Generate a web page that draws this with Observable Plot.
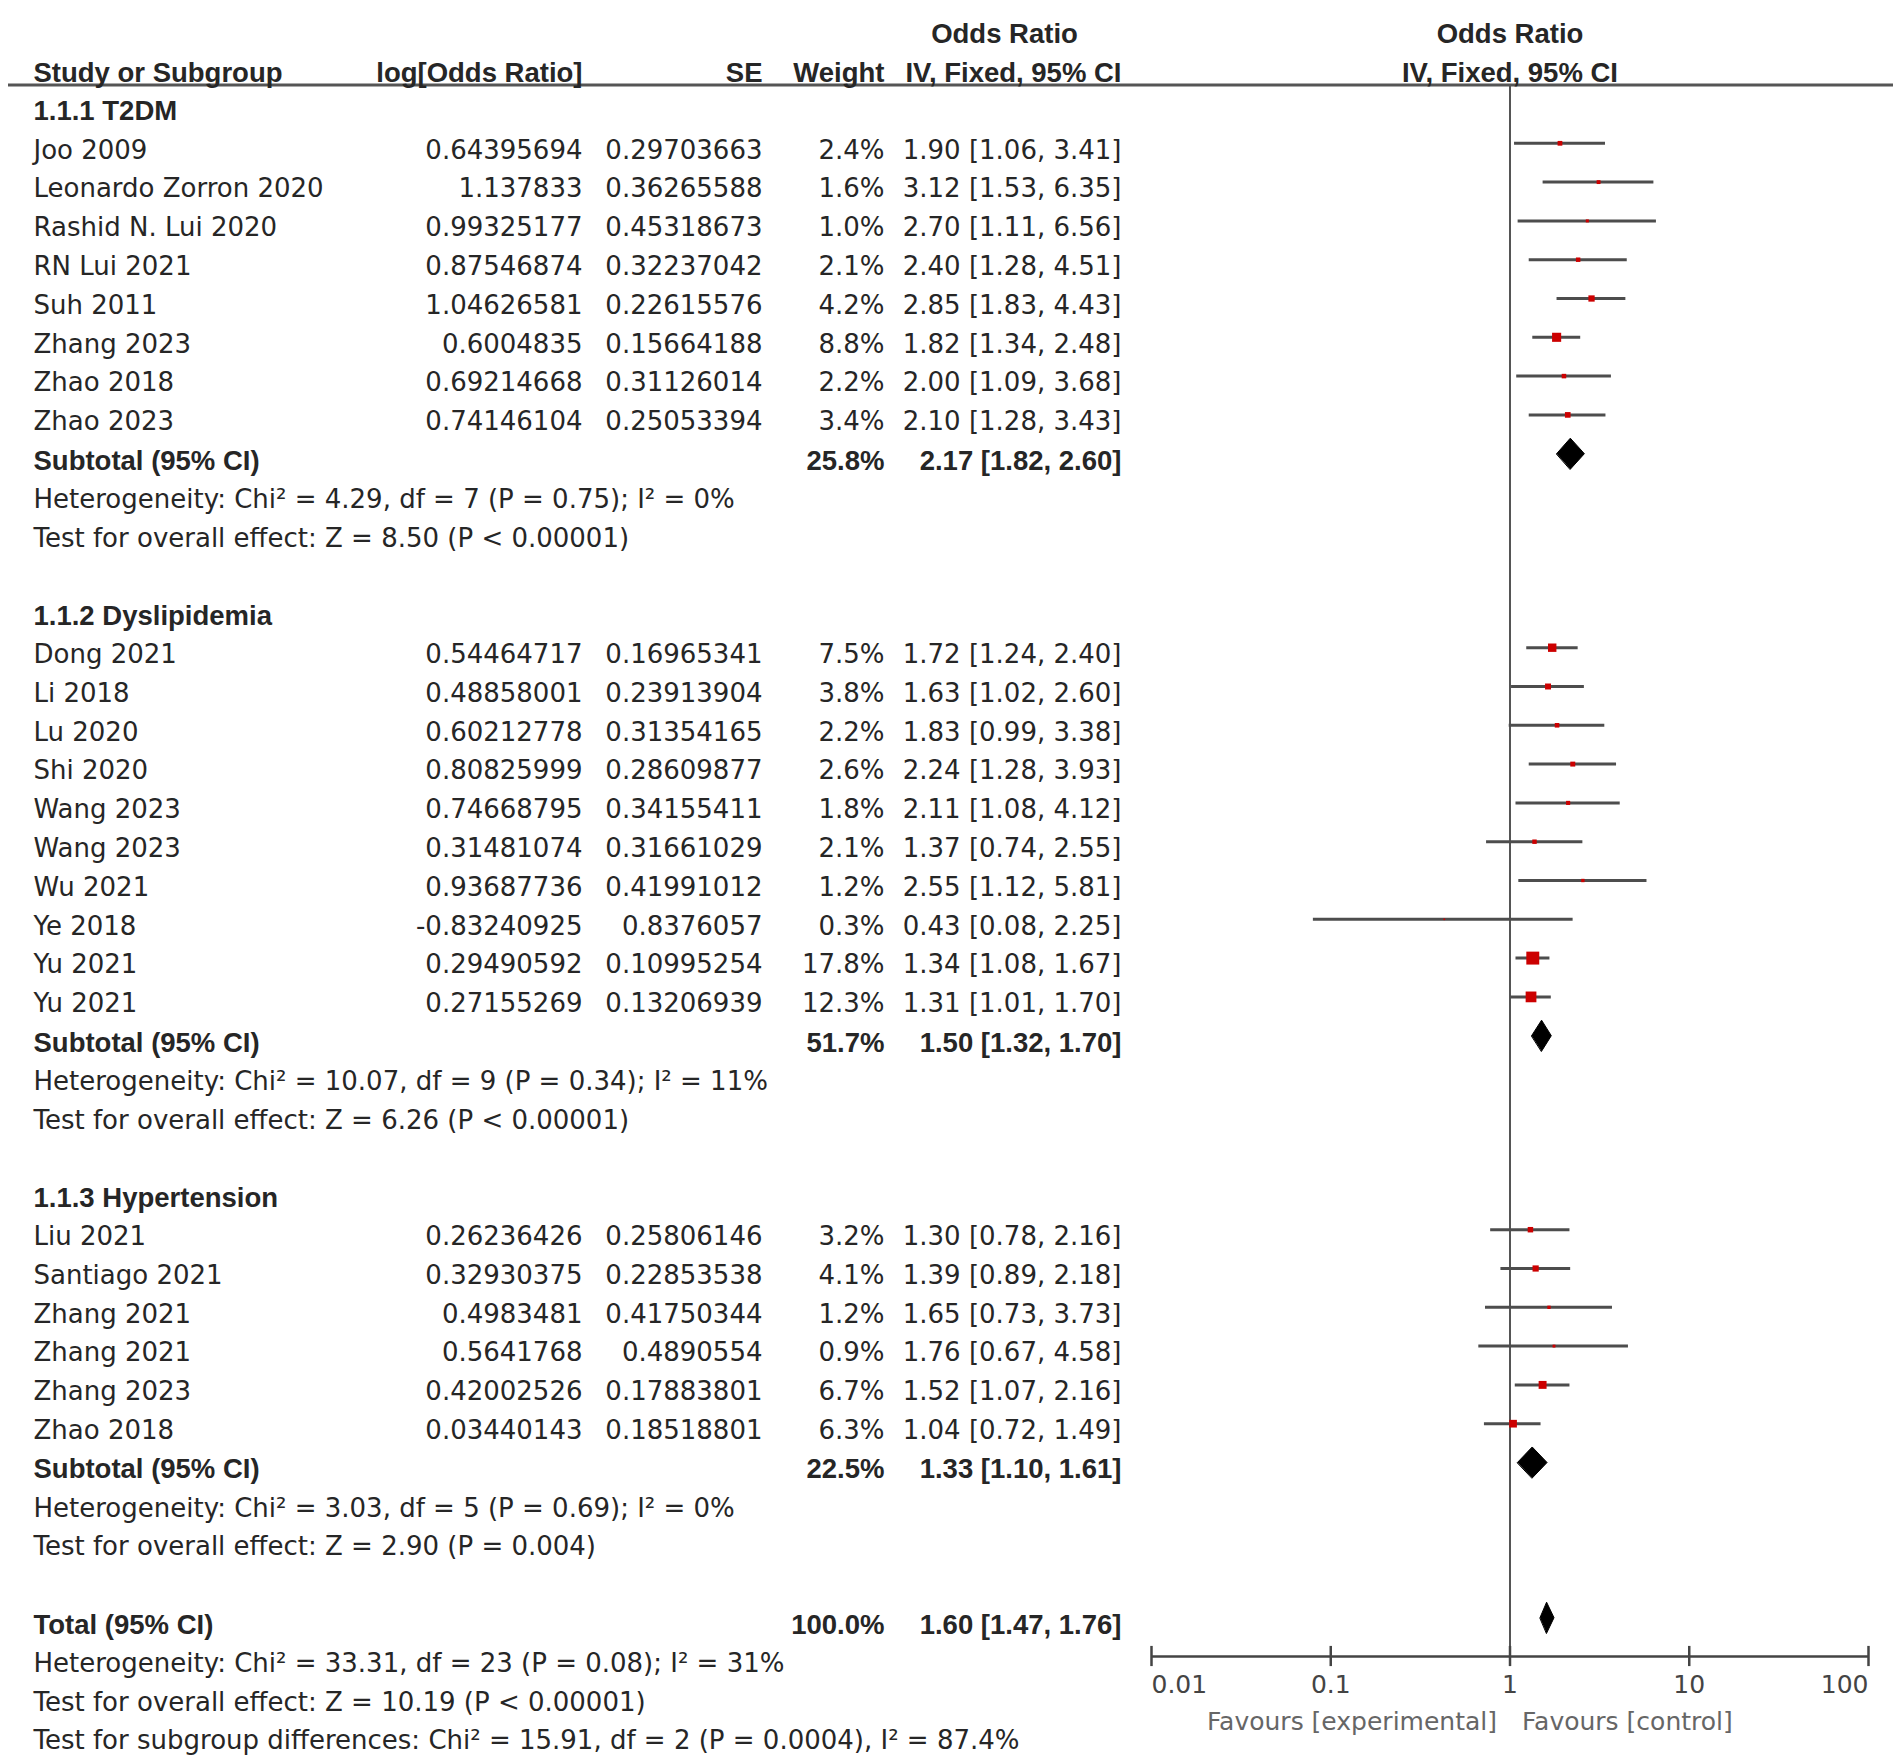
<!DOCTYPE html>
<html>
<head>
<meta charset="utf-8">
<script src="https://cdn.jsdelivr.net/npm/d3@7"></script>
<script src="https://cdn.jsdelivr.net/npm/@observablehq/plot@0.6"></script>
<style>
  html, body { margin: 0; padding: 0; background: #fff; overflow: hidden; }
  #chart svg { display: block; }
</style>
</head>
<body>
<div id="chart"></div>
<script>
// ---------------- DATA ----------------
const subgroupNames = ["1.1.1 T2DM", "1.1.2 Dyslipidemia", "1.1.3 Hypertension"];

const studyNames = [
  "Joo 2009", "Leonardo Zorron 2020", "Rashid N. Lui 2020", "RN Lui 2021", "Suh 2011", "Zhang 2023", "Zhao 2018", "Zhao 2023",
  "Dong 2021", "Li 2018", "Lu 2020", "Shi 2020", "Wang 2023", "Wang 2023", "Wu 2021", "Ye 2018", "Yu 2021", "Yu 2021",
  "Liu 2021", "Santiago 2021", "Zhang 2021", "Zhang 2021", "Zhang 2023", "Zhao 2018"
];
const studyGroup = [0,0,0,0,0,0,0,0, 1,1,1,1,1,1,1,1,1,1, 2,2,2,2,2,2];
const logOddsRatio = [
  0.64395694, 1.137833, 0.99325177, 0.87546874, 1.04626581, 0.6004835, 0.69214668, 0.74146104,
  0.54464717, 0.48858001, 0.60212778, 0.80825999, 0.74668795, 0.31481074, 0.93687736, -0.83240925, 0.29490592, 0.27155269,
  0.26236426, 0.32930375, 0.4983481, 0.5641768, 0.42002526, 0.03440143
];
const standardError = [
  0.29703663, 0.36265588, 0.45318673, 0.32237042, 0.22615576, 0.15664188, 0.31126014, 0.25053394,
  0.16965341, 0.23913904, 0.31354165, 0.28609877, 0.34155411, 0.31661029, 0.41991012, 0.8376057, 0.10995254, 0.13206939,
  0.25806146, 0.22853538, 0.41750344, 0.4890554, 0.17883801, 0.18518801
];
const weightPct = [
  2.4, 1.6, 1.0, 2.1, 4.2, 8.8, 2.2, 3.4,
  7.5, 3.8, 2.2, 2.6, 1.8, 2.1, 1.2, 0.3, 17.8, 12.3,
  3.2, 4.1, 1.2, 0.9, 6.7, 6.3
];
const oddsRatio = [
  1.90, 3.12, 2.70, 2.40, 2.85, 1.82, 2.00, 2.10,
  1.72, 1.63, 1.83, 2.24, 2.11, 1.37, 2.55, 0.43, 1.34, 1.31,
  1.30, 1.39, 1.65, 1.76, 1.52, 1.04
];
const ciLower = [
  1.06, 1.53, 1.11, 1.28, 1.83, 1.34, 1.09, 1.28,
  1.24, 1.02, 0.99, 1.28, 1.08, 0.74, 1.12, 0.08, 1.08, 1.01,
  0.78, 0.89, 0.73, 0.67, 1.07, 0.72
];
const ciUpper = [
  3.41, 6.35, 6.56, 4.51, 4.43, 2.48, 3.68, 3.43,
  2.40, 2.60, 3.38, 3.93, 4.12, 2.55, 5.81, 2.25, 1.67, 1.70,
  2.16, 2.18, 3.73, 4.58, 2.16, 1.49
];

const subtotalWeight = [25.8, 51.7, 22.5];
const subtotalOR = [2.17, 1.50, 1.33];
const subtotalLower = [1.82, 1.32, 1.10];
const subtotalUpper = [2.60, 1.70, 1.61];
const heterogeneityText = [
  "Heterogeneity: Chi² = 4.29, df = 7 (P = 0.75); I² = 0%",
  "Heterogeneity: Chi² = 10.07, df = 9 (P = 0.34); I² = 11%",
  "Heterogeneity: Chi² = 3.03, df = 5 (P = 0.69); I² = 0%"
];
const overallEffectText = [
  "Test for overall effect: Z = 8.50 (P < 0.00001)",
  "Test for overall effect: Z = 6.26 (P < 0.00001)",
  "Test for overall effect: Z = 2.90 (P = 0.004)"
];

const totalWeight = 100.0;
const totalOR = 1.60;
const totalLower = 1.47;
const totalUpper = 1.76;
const totalFootnotes = [
  "Heterogeneity: Chi² = 33.31, df = 23 (P = 0.08); I² = 31%",
  "Test for overall effect: Z = 10.19 (P < 0.00001)",
  "Test for subgroup differences: Chi² = 15.91, df = 2 (P = 0.0004), I² = 87.4%"
];

const columnHeaders = ["Study or Subgroup", "log[Odds Ratio]", "SE", "Weight", "IV, Fixed, 95% CI"];
const groupHeader = "Odds Ratio";
const axisTicks = [0.01, 0.1, 1, 10, 100];
const axisTickLabels = ["0.01", "0.1", "1", "10", "100"];
const favoursLabels = ["Favours [experimental]", "Favours [control]"];

// ---------------- LAYOUT (styles / positions) ----------------
const W = 1902, H = 1759;
const ML = 8, MR = 9;
const colX = {study: 33, logor: 582, se: 762, weight: 884, ci: 1121, head: 1004};
const TEXT = "#262626";
const fmt2 = v => v.toFixed(2);
const ciStr = (o, l, u) => `${fmt2(o)} [${fmt2(l)}, ${fmt2(u)}]`;

// build rows
const cells = [];     // {row, col, text, bold}
const studyRows = []; // {row, or, lo, hi, w}
const diamondPts = [];
let row = 0;
for (let g = 0; g < subgroupNames.length; g++) {
  cells.push({row, col: "study", text: subgroupNames[g], bold: true});
  row++;
  for (let i = 0; i < studyNames.length; i++) {
    if (studyGroup[i] !== g) continue;
    cells.push({row, col: "study", text: studyNames[i]});
    cells.push({row, col: "logor", text: String(logOddsRatio[i])});
    cells.push({row, col: "se", text: String(standardError[i])});
    cells.push({row, col: "weight", text: weightPct[i].toFixed(1) + "%"});
    cells.push({row, col: "ci", text: ciStr(oddsRatio[i], ciLower[i], ciUpper[i])});
    studyRows.push({row, or: oddsRatio[i], lo: ciLower[i], hi: ciUpper[i], w: weightPct[i]});
    row++;
  }
  cells.push({row, col: "study", text: "Subtotal (95% CI)", bold: true});
  cells.push({row, col: "weight", text: subtotalWeight[g].toFixed(1) + "%", bold: true});
  cells.push({row, col: "ci", text: ciStr(subtotalOR[g], subtotalLower[g], subtotalUpper[g]), bold: true});
  diamondPts.push(
    {id: g, x: subtotalLower[g], y: row}, {id: g, x: subtotalOR[g], y: row - 0.4},
    {id: g, x: subtotalUpper[g], y: row}, {id: g, x: subtotalOR[g], y: row + 0.4});
  row++;
  cells.push({row, col: "study", text: heterogeneityText[g]}); row++;
  cells.push({row, col: "study", text: overallEffectText[g]}); row++;
  row++; // blank line
}
cells.push({row, col: "study", text: "Total (95% CI)", bold: true});
cells.push({row, col: "weight", text: totalWeight.toFixed(1) + "%", bold: true});
cells.push({row, col: "ci", text: ciStr(totalOR, totalLower, totalUpper), bold: true});
diamondPts.push(
  {id: 9, x: totalLower, y: row}, {id: 9, x: totalOR, y: row - 0.4},
  {id: 9, x: totalUpper, y: row}, {id: 9, x: totalOR, y: row + 0.4});
const totalRow = row;
row++;
for (const t of totalFootnotes) { cells.push({row, col: "study", text: t}); row++; }

// header cells
const headerCells = columnHeaders.map((t, i) => ({row: -1, col: ["study","logor","se","weight","ci"][i], text: t, bold: true}));
headerCells.push({row: -2, col: "head", text: groupHeader, bold: true});

const axisRow = totalRow + 1;          // axis line sits at the first footnote row
const anchorOf = {study: "start", logor: "end", se: "end", weight: "end", ci: "end", head: "middle"};

function textMarks(data) {
  const marks = [];
  for (const col of Object.keys(colX)) {
    for (const bold of [false, true]) {
      const d = data.filter(c => c.col === col && !!c.bold === bold);
      if (!d.length) continue;
      marks.push(Plot.text(d, {
        y: "row", text: "text",
        frameAnchor: "left", dx: colX[col] - ML, dy: 7,
        textAnchor: anchorOf[col],
        fontFamily: bold ? "Liberation Sans, Arial, sans-serif" : "DejaVu Sans, sans-serif",
        fontWeight: bold ? "bold" : "normal",
        fontSize: bold ? 27.5 : 26,
        fill: TEXT
      }));
    }
  }
  return marks;
}

const tickFirst = axisTicks.slice(0, 1), tickMid = axisTicks.slice(1, -1), tickLast = axisTicks.slice(-1);
const tickLabel = v => axisTickLabels[axisTicks.indexOf(v)];
const tickTextOpts = (anchor) => ({x: d => d, y: axisRow + 0.55, text: tickLabel, textAnchor: anchor,
  fontFamily: "DejaVu Sans, sans-serif", fontSize: 25, fill: "#444", dy: 7});

const chart = Plot.plot({
  width: W, height: H,
  marginLeft: ML, marginRight: MR, marginTop: 0, marginBottom: 0,
  x: {type: "log", domain: [0.01, 100], range: [1151, 1868], axis: null},
  y: {type: "linear", domain: [0, 42], range: [104, 104 + 42 * 38.8], axis: null},
  r: {type: "sqrt", domain: [0, 17.8], range: [0, 7.3]},
  style: {background: "#fff"},
  marks: [
    // line of no effect
    Plot.ruleX([1], {y1: -0.5, y2: axisRow, stroke: "#555", strokeWidth: 2}),
    // confidence intervals
    Plot.ruleY(studyRows, {y: "row", x1: "lo", x2: "hi", stroke: "#4d4d4d", strokeWidth: 3}),
    // study point estimates
    Plot.dot(studyRows, {x: "or", y: "row", r: "w", symbol: "square", fill: "#cc0000"}),
    // pooled diamonds
    Plot.line(diamondPts, {x: "x", y: "y", z: "id", curve: "linear-closed", fill: "#000", stroke: "#000", strokeWidth: 1}),
    // header line
    Plot.ruleY([-0.5], {stroke: "#555", strokeWidth: 3}),
    // bottom axis
    Plot.ruleY([axisRow], {x1: axisTicks[0], x2: axisTicks[axisTicks.length - 1], stroke: "#444", strokeWidth: 2.5}),
    Plot.ruleX(axisTicks, {x: d => d, y1: axisRow - 0.26, y2: axisRow + 0.26, stroke: "#444", strokeWidth: 2.5}),
    Plot.text(tickFirst, tickTextOpts("start")),
    Plot.text(tickMid, tickTextOpts("middle")),
    Plot.text(tickLast, tickTextOpts("end")),
    Plot.text([favoursLabels[0]], {x: 1, y: axisRow + 1.5, text: d => d, textAnchor: "end", dx: -13, dy: 7,
      fontFamily: "DejaVu Sans, sans-serif", fontSize: 25, fill: "#666"}),
    Plot.text([favoursLabels[1]], {x: 1, y: axisRow + 1.5, text: d => d, textAnchor: "start", dx: 12, dy: 7,
      fontFamily: "DejaVu Sans, sans-serif", fontSize: 25, fill: "#666"}),
    // forest-plot column headings
    Plot.text([groupHeader], {x: 1, y: -2, text: d => d, textAnchor: "middle", dy: 7,
      fontFamily: "Liberation Sans, Arial, sans-serif", fontWeight: "bold", fontSize: 27.5, fill: TEXT}),
    Plot.text([columnHeaders[4]], {x: 1, y: -1, text: d => d, textAnchor: "middle", dy: 7,
      fontFamily: "Liberation Sans, Arial, sans-serif", fontWeight: "bold", fontSize: 27.5, fill: TEXT}),
    // table text
    ...textMarks(headerCells),
    ...textMarks(cells)
  ]
});
document.getElementById("chart").appendChild(chart);
</script>
</body>
</html>
